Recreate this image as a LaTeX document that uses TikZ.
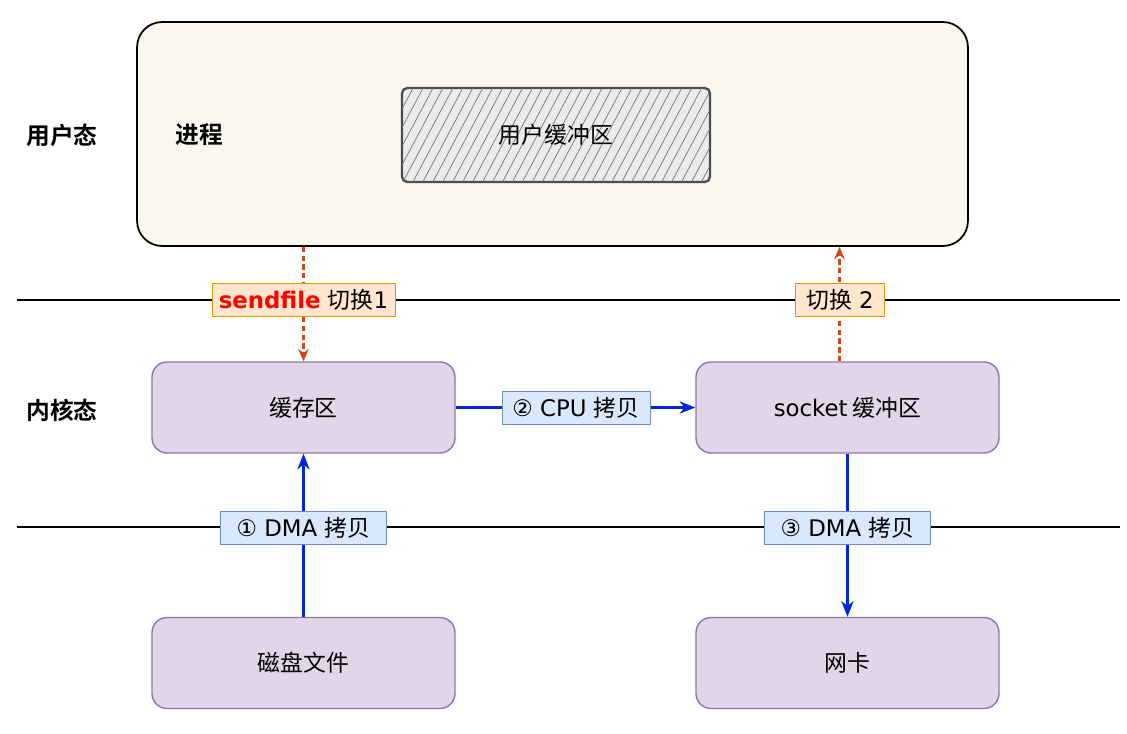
\documentclass[tikz,border=0pt]{standalone}
\usepackage{fontspec}
\setmainfont{DejaVu Sans}
\newfontfamily\cjk{Noto Sans CJK SC}[BoldFont={Noto Sans CJK SC Bold}]
\usetikzlibrary{arrows.meta,patterns.meta}
\definecolor{creamfill}{HTML}{F9F7EE}
\definecolor{kfill}{HTML}{E1D5E7}
\definecolor{kdraw}{HTML}{9673A6}
\definecolor{orfill}{HTML}{FFE6CC}
\definecolor{ordraw}{HTML}{D79B00}
\definecolor{blfill}{HTML}{DAE8FC}
\definecolor{bldraw}{HTML}{6C8EBF}
\definecolor{switchred}{HTML}{D0481A}
\definecolor{copyblue}{HTML}{0026D6}
\definecolor{sfred}{HTML}{FF0000}
\tikzstyle{process}=[draw=black, line width=1pt, fill=creamfill, rounded corners=0.5cm, minimum width=16.62cm, minimum height=4.48cm]
\tikzstyle{usrbuf}=[draw=black!70, line width=1.3pt, fill=black!8, rounded corners=3pt, minimum width=6.16cm, minimum height=1.88cm]
\tikzstyle{kbox}=[draw=kdraw, line width=0.8pt, fill=kfill, rounded corners=0.3cm, minimum width=6.06cm, minimum height=1.82cm, font=\cjk\fontsize{13}{16}\selectfont]
\tikzstyle{layer}=[font=\cjk\bfseries\fontsize{13.5}{16}\selectfont]
\tikzstyle{switchtag}=[draw=ordraw, fill=orfill, minimum height=0.6cm, inner xsep=3pt, font=\fontsize{13}{16}\selectfont]
\tikzstyle{copytag}=[draw=bldraw, fill=blfill, minimum height=0.6cm, inner xsep=6pt, font=\fontsize{13}{16}\selectfont]
\tikzstyle{boundary}=[line width=1.2pt, black]
\tikzstyle{switch}=[color=switchred, line width=1.2pt, dash pattern=on 3pt off 2pt, -{Stealth[length=7pt,width=6pt]}]
\tikzstyle{copy}=[color=copyblue, line width=1.3pt, -{Stealth[length=9pt,width=7pt]}]

\begin{document}
\begin{tikzpicture}[x=0.02cm, y=-0.02cm]
\useasboundingbox (0,0) rectangle (1127,734);
% user space
\node[process] (proc) at (552.5,134) {};
\node[usrbuf, postaction={pattern={Lines[angle=62,distance=5pt,line width=0.4pt]}, pattern color=black!55}] (ubuf) at (556,135) {};
\node[font=\cjk\fontsize{13}{16}\selectfont] (ubuftext) at (556,135) {用户缓冲区};
\node[layer] (user) at (62,135) {用户态};
\node[layer] (procname) at (199,135) {进程};
% kernel space
\node[layer] (kernel) at (62,410) {内核态};
\node[kbox] (cache) at (303.5,407.5) {缓存区};
\node[kbox] (sock) at (847.5,407.5) {\textrm{socket} 缓冲区};
% devices
\node[kbox] (disk) at (303.5,663) {磁盘文件};
\node[kbox] (nic) at (847.5,663) {网卡};

% boundaries
\coordinate (top_w) at (17,300);
\coordinate (top_e) at (1120,300);
\coordinate (bot_w) at (17,527);
\coordinate (bot_e) at (1120,527);
\draw[boundary] (top_w) -- (top_e);
\draw[boundary] (bot_w) -- (bot_e);

% context switches
\draw[switch] (cache.north |- proc.south) -- (cache.north);
\draw[switch] ([xshift=-0.16cm]sock.north) -- ([xshift=-0.16cm]sock.north |- proc.south);

% copies
\draw[copy] (disk.north) -- (cache.south);
\draw[copy] (cache.east) -- (sock.west);
\draw[copy] (sock.south) -- (nic.north);

% tags
\node[switchtag, minimum width=3.66cm] (sw1) at (303.5,300) {{\color{sfred}\bfseries sendfile} {\cjk 切换}1};
\node[switchtag, minimum width=1.78cm] (sw2) at (840,300) {{\cjk 切换} 2};
\node[copytag] (cp2) at (576,407.5) {② CPU {\cjk 拷贝}};
\node[copytag, minimum width=3.32cm] (cp1) at (303.5,528) {① DMA {\cjk 拷贝}};
\node[copytag, minimum width=3.32cm] (cp3) at (847.5,528) {③ DMA {\cjk 拷贝}};
\end{tikzpicture}
\end{document}
